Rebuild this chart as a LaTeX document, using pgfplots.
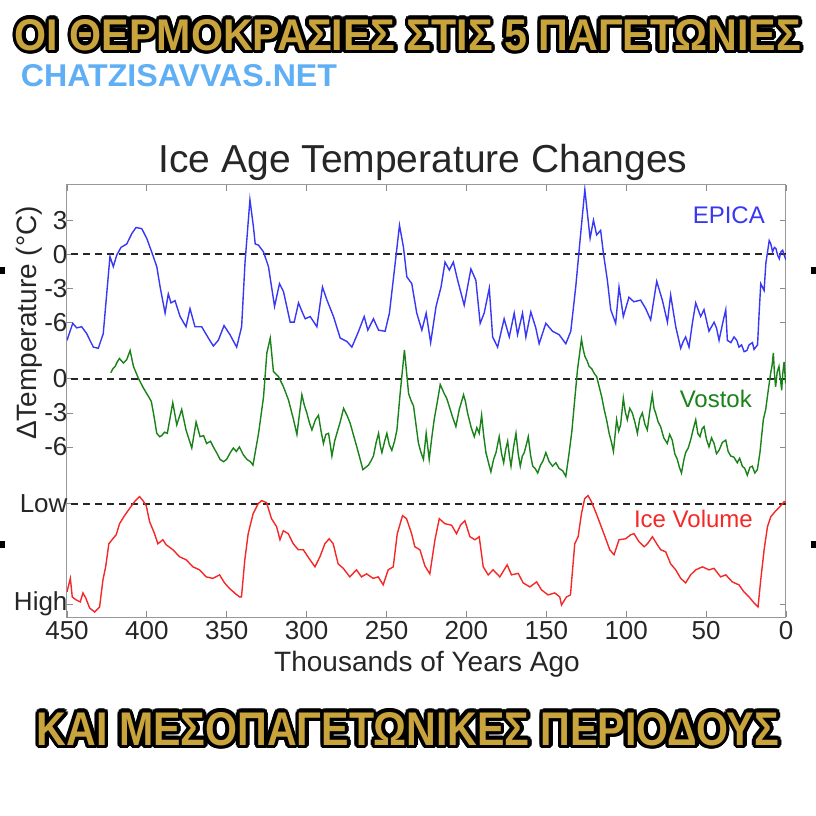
\documentclass[border=0pt]{standalone}
\usepackage{fontspec}
\setmainfont{Liberation Sans}
\newfontfamily\headfont{Liberation Sans}
\usepackage{graphicx}
\usepackage{pgfplots}
\pgfplotsset{compat=1.18}
\usepackage{pgfplotstable}
\definecolor{gold}{RGB}{201,164,60}
\definecolor{siteblue}{RGB}{95,175,245}
\definecolor{epicablue}{RGB}{55,55,245}
\definecolor{vostokgreen}{RGB}{25,130,25}
\definecolor{icered}{RGB}{245,40,40}

% EPICA: time (ky ago), temperature anomaly (deg C)
\pgfplotstableread{
t T
450 -7.6
446.4 -6.1
443.9 -6.5
440.8 -6.4
437.7 -7.0
433.5 -8.2
430.4 -8.3
427.3 -7.0
423.1 -0.2
421.0 -1.1
418.9 -0.1
416.2 0.6
412.6 0.9
409.5 1.8
406.8 2.35
403.2 2.25
400.1 1.4
397.0 0.2
393.8 -1.1
391.7 -2.9
388.6 -5.2
386.6 -3.5
384.9 -4.3
382.4 -4.1
379.2 -5.5
375.5 -6.4
373.0 -4.8
369.9 -6.4
365.7 -6.4
361.5 -7.4
358.4 -8.1
355.3 -7.6
351.7 -6.3
348.0 -7.1
343.8 -8.2
340.7 -6.4
338.6 -0.8
335.5 4.8
333.3 2.4
332.2 0.9
330.2 0.8
327.0 0.2
323.9 -1.1
320.1 -4.6
317.0 -2.6
314.5 -3.3
310.3 -6.0
307.8 -6.0
305.1 -4.3
302.5 -5.2
300.9 -5.7
297.8 -5.5
293.6 -6.4
290.1 -2.9
287.3 -4.05
283.2 -5.5
279.0 -7.4
274.8 -7.7
271.7 -8.2
267.5 -6.8
264.0 -5.5
261.7 -6.7
258.2 -5.7
255.0 -6.7
250.9 -6.8
248.2 -5.2
244.6 -0.8
241.9 2.55
239.4 0.6
237.3 -2.0
234.2 -2.6
231.1 -5.2
227.9 -6.7
225.2 -5.2
222.4 -7.8
219.0 -4.6
215.9 -2.9
213.4 -0.7
210.7 -1.4
208.2 -0.7
205.5 -2.3
201.4 -4.5
197.2 -1.3
194.1 -2.3
191.4 -6.1
188.9 -5.2
185.7 -3.0
183.6 -7.3
180.5 -8.2
176.4 -5.7
173.2 -7.3
170.1 -5.2
168.0 -7.1
164.9 -5.2
162.8 -7.3
159.7 -5.1
156.6 -6.5
154.5 -7.9
150.3 -6.1
146.1 -6.8
142.0 -7.1
137.8 -7.9
134.7 -6.8
131.6 -2.9
128.9 1.2
125.9 5.7
124.3 3.6
122.6 1.4
120.5 3.0
118.5 1.7
116.0 2.1
114.3 0.1
111.8 -2.3
109.7 -4.9
106.6 -6.1
104.5 -2.9
101.8 -5.5
98.3 -3.8
95.2 -4.2
91.0 -4.05
87.8 -4.8
84.7 -5.8
80.9 -2.4
77.4 -4.05
74.2 -6.0
72.2 -3.6
69.0 -6.4
65.9 -8.3
64.3 -7.7
62.8 -7.3
60.7 -8.2
58.5 -6.0
56.5 -4.3
53.4 -5.5
51.3 -4.9
48.2 -6.8
45.0 -6.0
43.5 -6.5
41.9 -7.6
39.5 -6.0
37.7 -4.9
36.7 -7.6
34.5 -7.8
32.5 -7.3
30.8 -7.6
29.4 -8.2
27.8 -8.0
26.2 -8.6
24.5 -8.5
23.1 -8.0
21.0 -7.8
20.0 -8.4
18.9 -8.2
17.8 -8.0
16.8 -5.2
15.8 -2.6
13.7 -3.2
12.6 -0.8
10.5 1.2
9.5 0.9
8.4 0.2
7.3 0.6
6.3 0.5
5.2 -0.1
4.2 -0.4
3.2 0.2
2.1 0.35
1.1 -0.1
0 -0.5
}\epica

% Vostok: time (ky ago), temperature anomaly (deg C)
\pgfplotstableread{
t T
422.6 0.55
421.2 0.9
419.9 1.1
418.5 1.5
417.2 1.8
414.7 1.4
412.6 1.7
410.5 2.5
408.4 1.1
405.3 0.05
402.2 -0.8
399.0 -1.55
397.2 -2.0
395.9 -3.0
393.8 -4.8
392.0 -5.1
390.7 -5.0
389.0 -4.7
387.2 -4.8
383.8 -2.1
381.3 -4.05
378.2 -2.7
375.5 -4.5
371.9 -6.1
369.2 -3.8
366.7 -5.1
364.5 -5.0
362.6 -5.7
360.2 -5.5
358.4 -6.0
356.0 -6.6
354.2 -7.1
352.0 -7.3
350.1 -7.1
347.8 -6.5
345.9 -6.1
344.0 -6.4
342.1 -6.0
339.6 -6.7
337.4 -7.1
335.2 -7.3
333.6 -7.6
330.1 -4.8
327.0 -1.6
324.9 2.3
322.8 3.6
320.8 0.65
317.6 0.2
314.5 -0.7
311.4 -1.85
308.2 -3.6
306.1 -4.9
303.0 -1.4
301.5 -2.3
299.9 -3.0
298.2 -3.9
296.7 -4.5
294.5 -3.6
292.6 -3.2
291.0 -4.6
289.5 -5.7
288.0 -4.9
286.3 -4.8
285.1 -5.9
284.2 -6.8
282.5 -5.5
281.1 -4.8
279.0 -3.8
276.9 -2.6
274.8 -3.2
272.8 -3.9
270.6 -5.0
268.6 -6.0
266.5 -7.1
264.8 -8.0
263.0 -7.8
261.3 -7.6
259.6 -7.2
258.2 -6.8
256.5 -5.6
255.0 -4.8
253.9 -5.9
252.9 -6.5
251.2 -5.5
249.8 -4.8
248.3 -5.8
246.7 -6.3
245.0 -5.5
243.5 -4.5
241.5 -1.3
238.8 2.55
236.2 -1.3
234.7 -1.9
233.1 -2.4
231.6 -4.0
230.0 -5.7
228.4 -6.5
226.9 -7.1
225.2 -4.8
223.3 -7.1
221.7 -5.2
220.2 -3.6
218.2 -2.0
216.4 -0.5
213.9 -1.3
212.4 -1.7
210.8 -2.4
208.6 -3.4
206.6 -4.2
204.5 -2.7
201.8 -1.4
200.6 -2.0
199.3 -3.0
197.2 -4.2
195.1 -5.1
193.5 -4.3
192.0 -4.8
190.5 -3.2
189.2 -5.0
187.8 -6.5
186.2 -7.4
184.7 -8.2
183.0 -7.1
181.5 -6.5
179.5 -5.1
178.0 -6.6
176.7 -7.4
175.4 -6.2
174.2 -5.5
173.0 -6.9
172.1 -7.7
170.5 -6.0
169.0 -4.8
167.6 -6.6
166.3 -7.7
165.0 -6.8
163.8 -6.5
162.5 -5.8
161.3 -5.1
159.9 -6.7
158.5 -7.7
157.0 -7.9
155.4 -8.3
153.6 -7.6
152.0 -7.2
150.3 -6.5
148.2 -7.3
146.1 -7.7
144.0 -7.4
142.0 -7.9
139.8 -8.1
137.8 -8.6
135.7 -6.5
134.0 -4.6
132.6 -2.4
130.5 0.8
128.0 3.5
126.9 2.6
125.9 2.0
124.5 1.6
123.2 1.1
121.6 0.9
120.1 0.5
118.5 0.2
116.9 -0.7
115.3 -1.6
113.8 -2.7
112.3 -3.6
110.7 -4.8
109.2 -5.6
108.0 -6.4
106.0 -3.6
104.7 -4.6
103.5 -4.05
101.8 -1.7
100.6 -2.9
99.3 -3.6
97.8 -2.6
96.2 -3.0
94.6 -3.8
93.0 -4.8
91.5 -3.5
89.9 -3.0
88.3 -4.0
86.8 -4.5
85.2 -2.8
83.7 -1.4
82.6 -2.6
81.6 -3.0
80.0 -3.8
78.5 -4.2
76.5 -5.2
74.3 -5.7
72.8 -4.9
71.2 -5.4
69.6 -6.6
68.0 -7.1
66.7 -7.8
65.4 -8.3
64.0 -7.2
62.8 -6.5
61.2 -6.1
59.7 -5.4
58.0 -4.4
56.5 -3.6
55.2 -4.8
53.8 -5.1
52.5 -4.4
51.3 -4.2
49.8 -5.3
48.2 -6.0
46.6 -5.2
45.0 -5.7
43.5 -6.6
41.9 -6.3
39.8 -5.6
37.7 -5.4
36.2 -6.4
34.6 -6.8
32.6 -6.9
30.5 -7.4
29.0 -7.0
27.3 -7.7
25.8 -7.9
24.2 -8.5
22.6 -7.8
21.1 -7.7
19.5 -8.3
17.9 -8.0
16.3 -6.5
14.2 -3.6
12.7 -2.7
11.1 -1.0
9.6 0.5
8.7 1.2
7.9 2.3
7.2 0.4
6.5 -0.7
5.5 0.6
4.4 1.1
3.5 0.0
2.7 -1.0
2.0 0.5
1.2 1.5
0.2 -0.4
}\vostok

% Ice volume: time (ky ago), relative ice volume (0 = Low, 1 = High)
\pgfplotstableread{
t v
450 0.88
447.9 0.745
446.7 0.93
444.2 0.96
441.7 0.98
440.0 0.89
438.3 0.94
435.8 1.04
432.7 1.08
429.6 1.03
427.5 0.76
425.8 0.63
423.8 0.40
421.3 0.35
419.2 0.31
417.1 0.20
414.0 0.12
410.9 0.05
407.7 -0.02
404.6 -0.07
402.5 -0.03
400.4 0.02
398.3 0.18
395.2 0.30
393.1 0.40
390.0 0.36
387.9 0.41
383.7 0.46
379.5 0.53
375.4 0.56
371.2 0.63
367.0 0.66
362.9 0.73
358.7 0.745
354.5 0.71
351.4 0.79
348.3 0.845
345.1 0.89
342.0 0.93
340.8 0.93
338.7 0.56
336.6 0.30
333.5 0.10
330.3 0.0
328.2 -0.03
325.1 -0.01
322.0 0.15
318.8 0.23
316.7 0.36
314.6 0.27
311.5 0.30
308.4 0.40
305.2 0.46
302.1 0.46
297.9 0.56
294.8 0.63
291.7 0.53
288.6 0.40
285.9 0.35
283.4 0.40
280.3 0.60
277.1 0.645
273.0 0.73
268.8 0.66
265.7 0.73
262.5 0.70
258.4 0.745
255.2 0.73
252.1 0.81
249.0 0.66
245.8 0.63
243.3 0.30
240.0 0.12
237.5 0.15
234.3 0.30
232.3 0.43
229.1 0.46
226.0 0.62
222.9 0.70
219.7 0.36
217.0 0.15
213.5 0.20
209.3 0.215
206.2 0.30
203.7 0.215
201.0 0.17
197.8 0.33
194.7 0.36
192.0 0.33
189.5 0.63
186.4 0.71
183.3 0.66
179.1 0.73
174.5 0.61
171.8 0.71
167.6 0.695
164.5 0.79
160.3 0.83
156.1 0.78
153.0 0.86
148.9 0.91
144.7 0.89
141.6 0.93
140.5 1.01
137.4 0.93
134.9 0.91
132.2 0.40
130.1 0.33
128.0 0.10
126.0 -0.05
123.9 -0.08
121.8 -0.02
118.7 0.10
113.5 0.32
110.3 0.46
107.6 0.51
104.5 0.36
100.3 0.35
97.2 0.31
95.1 0.30
92.0 0.38
88.8 0.43
86.7 0.40
83.6 0.33
80.9 0.40
78.4 0.46
75.3 0.48
72.2 0.60
69.0 0.66
65.9 0.745
62.8 0.79
59.7 0.71
56.5 0.66
52.3 0.63
48.2 0.66
45.1 0.645
40.9 0.73
37.7 0.71
33.6 0.78
29.4 0.81
26.3 0.88
23.1 0.93
20.0 0.99
17.5 1.03
15.8 0.76
13.7 0.46
11.6 0.23
9.5 0.13
6.3 0.07
3.2 0.02
1.1 -0.02
0 -0.01
}\icevol

% headline: gold letters with a black outline made of offset black copies
\newcommand{\headline}[5]{%
  \foreach \a in {0,20,...,340}{%
    \node[inner sep=0pt, text=black] at ([shift={(\a:3.6pt)}]#1,#2) {\resizebox{#3}{#4}{\headfont\bfseries #5}};}
  \node[inner sep=0pt, text=gold] at (#1,#2) {\resizebox{#3}{#4}{\headfont\bfseries #5}};
}

\begin{document}
\begin{tikzpicture}
\fill[white] (0pt,0pt) rectangle (816pt,-816pt);
\useasboundingbox (0pt,0pt) rectangle (816pt,-816pt);

% headlines
\headline{408pt}{-35pt}{786pt}{31pt}{ΟΙ ΘΕΡΜΟΚΡΑΣΙΕΣ ΣΤΙΣ 5 ΠΑΓΕΤΩΝΙΕΣ}
\headline{408pt}{-729pt}{742pt}{33pt}{ΚΑΙ ΜΕΣΟΠΑΓΕΤΩΝΙΚΕΣ ΠΕΡΙΟΔΟΥΣ}
\node[inner sep=0pt, text=siteblue] at (179pt,-75.5pt) {\resizebox{316pt}{22pt}{\bfseries CHATZISAVVAS.NET}};

% crop marks
\fill[black] (0pt,-267pt) rectangle (5pt,-274pt);
\fill[black] (0pt,-541pt) rectangle (5pt,-548pt);
\fill[black] (811pt,-267pt) rectangle (816pt,-274pt);
\fill[black] (811pt,-541pt) rectangle (816pt,-548pt);

\begin{axis}[
  at={(67pt,-617pt)}, anchor=south west,
  scale only axis, width=719pt, height=432pt,
  x dir=reverse, xmin=0, xmax=450, ymin=-32, ymax=6.1,
  xtick={0,50,...,450},
  ytick={-30.85,-22,-17,-14,-11,-6,-3,0,3},
  yticklabels={High,Low,-6,-3,0,-6,-3,0,3},
  /pgf/number format/assume math mode=true,
  axis line style={draw=black!40, line width=1pt},
  tick style={draw=black!45, line width=0.8pt},
  tick align=inside, major tick length=6pt,
  tick label style={font=\fontsize{26}{28}\selectfont, text=black!85},
  yticklabel style={xshift=4pt},
  xticklabel style={yshift=-1pt},
  clip=true,
]
\addplot[black!85, line width=1.8pt, dash pattern=on 7pt off 5pt] coordinates {(0,0) (450,0)};
\addplot[black!85, line width=1.8pt, dash pattern=on 7pt off 5pt] coordinates {(0,-11) (450,-11)};
\addplot[black!85, line width=1.8pt, dash pattern=on 7pt off 5pt] coordinates {(0,-22) (450,-22)};
\addplot[epicablue, line width=1.4pt] table[x=t, y=T] {\epica};
\addplot[vostokgreen, line width=1.4pt] table[x=t, y expr=\thisrow{T}-11] {\vostok};
\addplot[icered, line width=1.4pt] table[x=t, y expr=-22-8.85*\thisrow{v}] {\icevol};
\end{axis}

% series labels
\node[anchor=base east, text=epicablue, font=\fontsize{24}{26}\selectfont, inner sep=0pt] at (765pt,-223pt) {EPICA};
\node[anchor=base east, text=vostokgreen, font=\fontsize{24}{26}\selectfont, inner sep=0pt] at (752pt,-407pt) {Vostok};
\node[anchor=base east, text=icered, font=\fontsize{24}{26}\selectfont, inner sep=0pt] at (753pt,-527pt) {Ice Volume};

% title and axis labels
\node[anchor=base, font=\fontsize{39}{41}\selectfont, text=black!85, inner sep=0pt] at (423pt,-172pt) {Ice Age Temperature Changes};
\node[anchor=base, font=\fontsize{28}{30}\selectfont, text=black!85, inner sep=0pt] at (427pt,-671pt) {Thousands of Years Ago};
\node[rotate=90, font=\fontsize{28}{30}\selectfont, text=black!85, inner sep=0pt] at (29pt,-323pt) {ΔTemperature (°C)};
\end{tikzpicture}
\end{document}
